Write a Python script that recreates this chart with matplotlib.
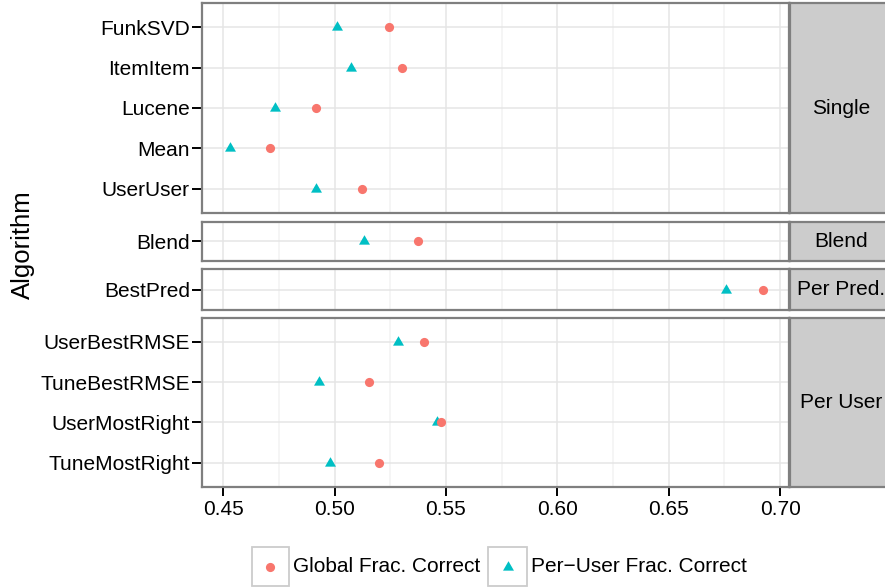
import numpy as np
import matplotlib
matplotlib.use("Agg")
import matplotlib.pyplot as plt
from matplotlib.patches import Rectangle
from matplotlib.lines import Line2D
from matplotlib.path import Path

plt.rcParams['font.family'] = ['Liberation Sans', 'DejaVu Sans']

# data
groups = ['Single', 'Blend', 'Per Pred.', 'Per User']
algorithms = [
    ['FunkSVD', 'ItemItem', 'Lucene', 'Mean', 'UserUser'],
    ['Blend'],
    ['BestPred'],
    ['UserBestRMSE', 'TuneBestRMSE', 'UserMostRight', 'TuneMostRight'],
]
global_frac = [
    [0.5245, 0.5304, 0.4918, 0.4710, 0.5124],
    [0.5373],
    [0.6922],
    [0.5401, 0.5155, 0.5477, 0.5201],
]
per_user_frac = [
    [0.5011, 0.5073, 0.4732, 0.4529, 0.4916],
    [0.5130],
    [0.6756],
    [0.5286, 0.4932, 0.5460, 0.4981],
]
series_labels = ['Global Frac. Correct', 'Per\u2212User Frac. Correct']
x_ticks = [0.45, 0.50, 0.55, 0.60, 0.65, 0.70]

RED = '#F8766D'
TEAL = '#00BFC4'
BORDER = '#7F7F7F'

W, H = 885, 587
fig = plt.figure(figsize=(W / 100, H / 100), dpi=100)

def box(x0, y0, x1, y1):
    # pixel box (top-left origin) -> figure fraction rect
    return [x0 / W, 1 - y1 / H, (x1 - x0) / W, (y1 - y0) / H]

# equilateral triangle like ggplot's shape 17
tri = Path([(0, 1), (-0.866, -0.5), (0.866, -0.5), (0, 1)],
           [Path.MOVETO, Path.LINETO, Path.LINETO, Path.CLOSEPOLY])

panel_rows = [(3.3, 212.7), (221.5, 261.0), (269.0, 310.0), (317.7, 486.7)]
left_px, right_px = 202.3, 789.0

for i, g in enumerate(groups):
    top, bot = panel_rows[i]
    ax = fig.add_axes(box(left_px, top, right_px, bot))
    names = algorithms[i]
    n = len(names)
    ypos = np.arange(n)
    ax.plot(per_user_frac[i], ypos, ls='none', marker=tri, ms=9.1,
            color=TEAL, mew=0, zorder=3)
    ax.plot(global_frac[i], ypos, ls='none', marker='o', ms=6.6,
            color=RED, mew=0, zorder=4)
    if n > 1:
        ax.set_ylim(n - 1 + 0.6, -0.6)
    else:
        ax.set_ylim(0.5, -0.5)
    ax.set_xlim(0.4406, 0.7040)
    ax.set_yticks(ypos)
    ax.set_yticklabels(names, fontsize=15, color='black')
    ax.set_xticks(x_ticks)
    ax.set_xticks([0.475, 0.525, 0.575, 0.625, 0.675], minor=True)
    ax.set_axisbelow(True)
    ax.grid(which='major', color='#E5E5E5', lw=1.1)
    ax.grid(which='minor', axis='x', color='#F3F3F3', lw=1.1)
    ax.tick_params(which='minor', length=0)
    ax.tick_params(axis='y', length=7, width=1.4, color='black', pad=2)
    if i == len(groups) - 1:
        ax.set_xticklabels(['%.2f' % t for t in x_ticks], fontsize=15, color='black')
        ax.tick_params(axis='x', length=6.5, width=1.4, color='black', pad=3)
    else:
        ax.tick_params(axis='x', length=0, labelbottom=False)
    for s in ax.spines.values():
        s.set_color(BORDER)
        s.set_linewidth(1.6)

    # facet strip on the right
    sx = fig.add_axes(box(789.5, top, 893.0, bot))
    sx.set_facecolor('#CCCCCC')
    sx.set_xticks([])
    sx.set_yticks([])
    for s in sx.spines.values():
        s.set_color(BORDER)
        s.set_linewidth(1.6)
    sx.text(0.5, 0.5, g, ha='center', va='center', fontsize=15,
            transform=sx.transAxes)

fig.text(23 / W, 1 - 245 / H, 'Algorithm', rotation=90, ha='center',
         va='center', fontsize=18.5)

# legend at the bottom
leg_y0, leg_y1 = 547.3, 585.7
keys = [(251.7, 289.0, 293.3), (488.3, 526.7, 531.0)]
for (k0, k1, tx), lab, col, mk, ms in zip(keys, series_labels, [RED, TEAL],
                                         ['o', tri], [6.6, 9.1]):
    fig.add_artist(Rectangle((k0 / W, 1 - leg_y1 / H), (k1 - k0) / W,
                             (leg_y1 - leg_y0) / H, transform=fig.transFigure,
                             fc='white', ec='#CCCCCC', lw=1.3))
    cy = 1 - (leg_y0 + leg_y1) / 2 / H
    fig.add_artist(Line2D([(k0 + k1) / 2 / W], [cy], transform=fig.transFigure,
                          ls='none', marker=mk, ms=ms, color=col, mew=0))
    fig.text(tx / W, cy, lab, ha='left', va='center', fontsize=15)

fig.savefig('out.png', dpi=100)
